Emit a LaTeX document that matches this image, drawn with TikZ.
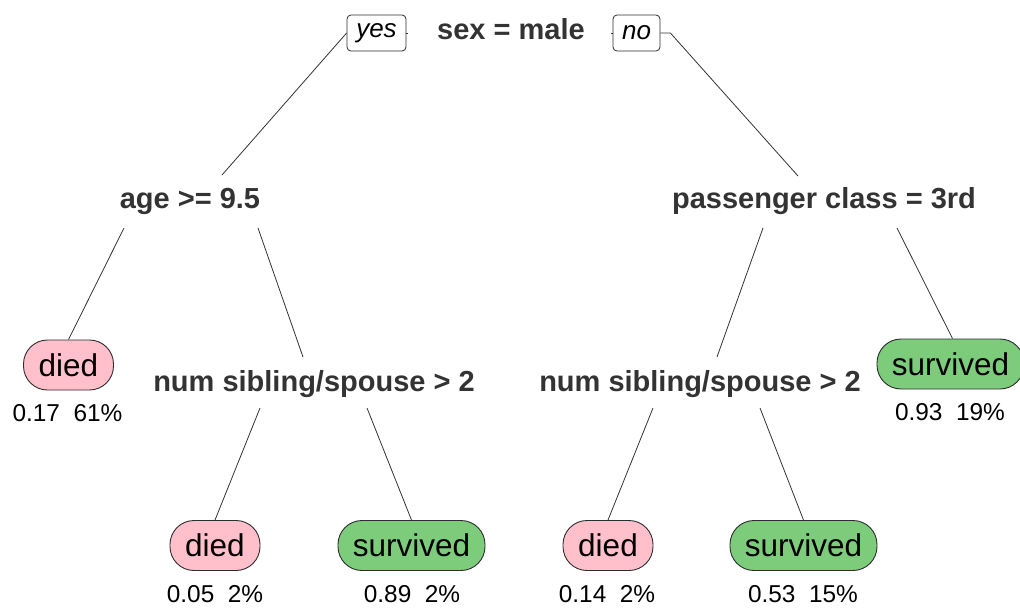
\documentclass[tikz,border=0pt]{standalone}
\usepackage{fontspec}
\setmainfont{Liberation Sans}
\usetikzlibrary{calc}

\definecolor{diedfill}{RGB}{255,192,203}
\definecolor{survfill}{RGB}{124,204,124}
\definecolor{splittext}{RGB}{51,51,51}
\definecolor{edgegray}{RGB}{45,45,45}

\tikzset{
  split/.style={anchor=base, inner sep=0pt, text=splittext,
    font=\fontsize{29}{29}\selectfont\bfseries},
  leaf/.style={draw=edgegray, line width=0.9pt, rounded corners=24pt,
    minimum height=50pt, inner sep=0pt, font=\fontsize{31.5}{31.5}\selectfont},
  diedleaf/.style={leaf, fill=diedfill, minimum width=90pt},
  survleaf/.style={leaf, fill=survfill, minimum width=147pt},
  stat/.style={anchor=base, inner sep=0pt, font=\fontsize{24.4}{24.4}\selectfont},
  answer/.style={draw=edgegray, line width=0.8pt, rounded corners=4pt, fill=white,
    minimum height=36pt, inner sep=0pt, font=\fontsize{26}{26}\selectfont\itshape},
  branch/.style={draw=black!80, line width=0.8pt},
}
\newcommand{\gapsp}{\hspace{0.556em}}

\begin{document}
\begin{tikzpicture}[x=1pt, y=-1pt]
  \useasboundingbox (0,0) rectangle (1020,608);

  % split labels
  \node[split] (root) at (511,39)  {sex = male};
  \node[split] (age)  at (190,208) {age >= 9.5};
  \node[split] (pc)   at (824,208) {passenger class = 3rd};
  \node[split] (nsl)  at (314,391) {num sibling/spouse > 2};
  \node[split] (nsr)  at (700,391) {num sibling/spouse > 2};

  % yes / no boxes on the root branches
  \node[answer, minimum width=59pt] (yes) at (376.5,33) {yes};
  \node[answer, minimum width=47pt] (no)  at (636.5,33) {no};

  % leaves
  \node[diedleaf] (d1) at (68.5,365)   {died};
  \node[survleaf] (s1) at (950.5,364)  {survived};
  \node[diedleaf] (d2) at (215,545.5)  {died};
  \node[survleaf] (s2) at (411.5,545.5){survived};
  \node[diedleaf] (d3) at (608,545.5)  {died};
  \node[survleaf] (s3) at (803.5,545.5){survived};

  % leaf statistics
  \node[stat] (t1) at (67.5,421) {0.17\gapsp 61\%};
  \node[stat] (t2) at (950,420)  {0.93\gapsp 19\%};
  \node[stat] (t3) at (215,602)  {0.05\gapsp 2\%};
  \node[stat] (t4) at (412,602)  {0.89\gapsp 2\%};
  \node[stat] (t5) at (607,602)  {0.14\gapsp 2\%};
  \node[stat] (t6) at (803,602)  {0.53\gapsp 15\%};

  % root branches through the yes / no boxes
  \draw[branch] ($(yes.east)+(2,0)$) -- (yes.east);
  \draw[branch] (yes.west) -- ($(age.base)+(32,-33)$);
  \draw[branch] (no.west) -- ++(-2,0);
  \draw[branch] (no.east) -- ++(10,0) -- ($(pc.base)+(-26,-32)$);

  % age >= 9.5
  \draw[branch] ($(age.base)+(-66,20)$) -- (d1.north);
  \draw[branch] ($(age.base)+(68,20)$)  -- ($(nsl.base)+(-11,-34)$);

  % passenger class = 3rd
  \draw[branch] ($(pc.base)+(-61,20)$) -- ($(nsr.base)+(17,-34)$);
  \draw[branch] ($(pc.base)+(73,20)$)  -- ([xshift=2pt]s1.north);

  % num sibling/spouse > 2 (left)
  \draw[branch] ($(nsl.base)+(-54,17)$) -- (d2.north);
  \draw[branch] ($(nsl.base)+(53,17)$)  -- (s2.north);

  % num sibling/spouse > 2 (right)
  \draw[branch] ($(nsr.base)+(-47,17)$) -- (d3.north);
  \draw[branch] ($(nsr.base)+(60,17)$)  -- (s3.north);
\end{tikzpicture}
\end{document}
